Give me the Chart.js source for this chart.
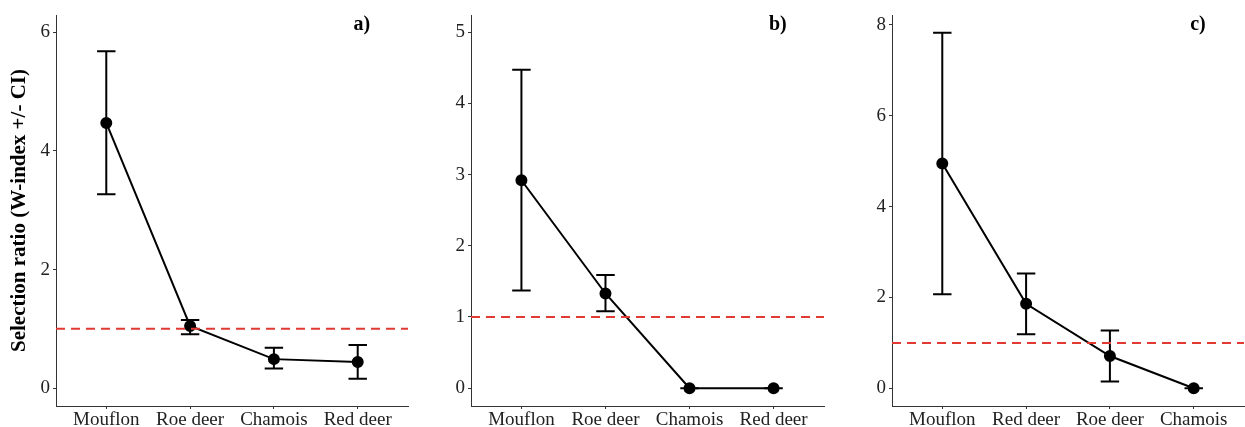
<!DOCTYPE html>
<html>
<head>
<meta charset="utf-8">
<script src="https://cdn.jsdelivr.net/npm/chart.js@4.4.1/dist/chart.umd.min.js"></script>
<style>
  html, body { margin: 0; padding: 0; background: #fff; width: 1245px; height: 427px; overflow: hidden; }
  .panel { position: absolute; top: 0; }
</style>
</head>
<body>
<div class="panel" style="left:0"><canvas id="chartA" width="415" height="427"></canvas></div>
<div class="panel" style="left:420px"><canvas id="chartB" width="411" height="427"></canvas></div>
<div class="panel" style="left:831px"><canvas id="chartC" width="420" height="427"></canvas></div>
<script>
// ===== DATA =====
const labelsA = ['Mouflon', 'Roe deer', 'Chamois', 'Red deer'];
const meanA = [4.47, 1.05, 0.49, 0.44];
const lowA  = [3.27, 0.91, 0.33, 0.16];
const highA = [5.68, 1.15, 0.68, 0.73];
const ticksA = [0, 2, 4, 6];

const labelsB = ['Mouflon', 'Roe deer', 'Chamois', 'Red deer'];
const meanB = [2.92, 1.33, 0, 0];
const lowB  = [1.37, 1.08, 0, 0];
const highB = [4.47, 1.59, 0, 0];
const ticksB = [0, 1, 2, 3, 4, 5];

const labelsC = ['Mouflon', 'Red deer', 'Roe deer', 'Chamois'];
const meanC = [4.95, 1.86, 0.71, 0];
const lowC  = [2.07, 1.19, 0.15, 0];
const highC = [7.83, 2.53, 1.27, 0];
const ticksC = [0, 2, 4, 6, 8];

const refValue = 1;
const FONT = "'Liberation Serif', 'Times New Roman', serif";

// error bars drawn under the line/points
const errorBarPlugin = {
  id: 'errorBars',
  beforeDatasetsDraw(chart, args, opts) {
    const { ctx } = chart;
    const xs = chart.scales.x, ys = chart.scales.y;
    ctx.save();
    ctx.strokeStyle = '#000';
    ctx.lineWidth = 2;
    opts.low.forEach((lo, i) => {
      const hi = opts.high[i];
      const x = xs.getPixelForValue(i);
      const half = (xs.getPixelForValue(i + opts.width / 2) - xs.getPixelForValue(i - opts.width / 2)) / 2;
      const yLo = ys.getPixelForValue(lo), yHi = ys.getPixelForValue(hi);
      ctx.beginPath();
      ctx.moveTo(x, yLo); ctx.lineTo(x, yHi);
      ctx.moveTo(x - half, yLo); ctx.lineTo(x + half, yLo);
      ctx.moveTo(x - half, yHi); ctx.lineTo(x + half, yHi);
      ctx.stroke();
    });
    ctx.restore();
  }
};

// panel letter in the top right corner
const panelLabelPlugin = {
  id: 'panelLabel',
  afterDraw(chart, args, opts) {
    const { ctx, chartArea } = chart;
    ctx.save();
    ctx.font = 'bold 20px ' + FONT;
    ctx.fillStyle = '#000';
    ctx.textAlign = 'center';
    ctx.textBaseline = 'middle';
    ctx.fillText(opts.text, chart.scales.x.getPixelForValue(3.05), chartArea.top + 10);
    ctx.restore();
  }
};

function makePanel(id, labels, mean, low, high, yTicks, yMin, yMax, yWidth, padRight, letter, showTitle) {
  const ctx = document.getElementById(id).getContext('2d');
  return new Chart(ctx, {
    type: 'scatter',
    data: {
      datasets: [
        {
          data: [{ x: -0.6, y: refValue }, { x: 3.6, y: refValue }],
          showLine: true,
          borderColor: '#e03a33',
          borderWidth: 2,
          borderDash: [9, 6],
          pointRadius: 0,
          order: 0
        },
        {
          data: mean.map((v, i) => ({ x: i, y: v })),
          showLine: true,
          borderColor: '#000',
          borderWidth: 2,
          pointRadius: 5,
          pointBackgroundColor: '#000',
          pointBorderColor: '#000',
          order: 1
        }
      ]
    },
    options: {
      responsive: false,
      animation: false,
      layout: { padding: { top: 15, right: padRight, left: 0, bottom: 0 } },
      plugins: {
        legend: { display: false },
        tooltip: { enabled: false },
        errorBars: { low: low, high: high, width: 0.22 },
        panelLabel: { text: letter }
      },
      scales: {
        x: {
          type: 'linear',
          min: -0.6,
          max: 3.6,
          afterBuildTicks: (s) => { s.ticks = labels.map((_, i) => ({ value: i })); },
          afterFit: (s) => { s.height = 21; },
          grid: { display: true, drawOnChartArea: false, drawTicks: true, tickLength: 3, color: '#333' },
          border: { display: true, color: '#333', width: 1 },
          ticks: {
            color: '#222',
            padding: 0,
            maxRotation: 0,
            font: { family: FONT, size: 19 },
            callback: (v) => labels[v]
          }
        },
        y: {
          min: yMin,
          max: yMax,
          afterBuildTicks: (s) => { s.ticks = yTicks.map(v => ({ value: v })); },
          afterFit: (s) => { s.width = yWidth; },
          grid: { display: true, drawOnChartArea: false, drawTicks: true, tickLength: 3, color: '#333' },
          border: { display: true, color: '#333', width: 1 },
          ticks: {
            color: '#222',
            padding: 3,
            font: { family: FONT, size: 19 }
          },
          title: {
            display: showTitle,
            text: 'Selection ratio (W-index +/- CI)',
            color: '#000',
            padding: { top: 7, bottom: 0 },
            font: { family: FONT, size: 21, weight: 'bold' }
          }
        }
      }
    },
    plugins: [errorBarPlugin, panelLabelPlugin]
  });
}

makePanel('chartA', labelsA, meanA, lowA, highA, ticksA, -0.30, 6.29, 56, 5, 'a)', true);
makePanel('chartB', labelsB, meanB, lowB, highB, ticksB, -0.25, 5.24, 51, 5, 'b)', false);
makePanel('chartC', labelsC, meanC, lowC, highC, ticksC, -0.39, 8.22, 61, 4, 'c)', false);
</script>
</body>
</html>
